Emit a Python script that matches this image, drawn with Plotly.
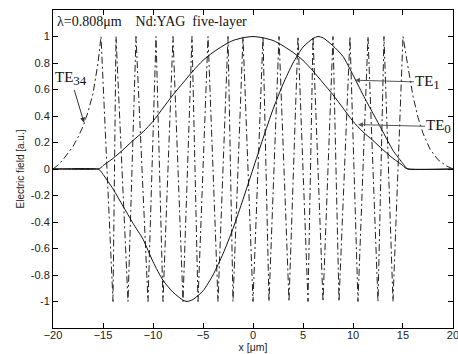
import plotly.graph_objects as go

# ---- data ----
te0_x = [-20, -15.5, -15.2, -15, -14, -13, -12, -11, -10, -9, -8, -7, -6, -5, -4, -3, -2, -1, 0,
         1, 2, 3, 4, 5, 6, 7, 8, 9, 10, 11, 12, 13, 14, 15, 15.2, 15.5, 20]
te0_y = [0, 0, 0.01, 0.025, 0.08, 0.145, 0.215, 0.28, 0.36, 0.46, 0.56, 0.65, 0.74, 0.82, 0.88, 0.93, 0.97, 0.99, 1.0,
         0.99, 0.97, 0.93, 0.88, 0.82, 0.74, 0.65, 0.56, 0.46, 0.36, 0.28, 0.215, 0.145, 0.08, 0.025, 0.01, 0, 0]

te1_x = [-20, -15.5, -15.3, -15, -14, -13, -12, -11, -10, -9, -8, -7, -6.6, -6, -5, -4, -3, -2, -1, 0,
         1, 2, 3, 4, 5, 6, 6.5, 7, 8, 9, 10, 11, 12, 13, 14, 15, 15.3, 15.5, 20]
te1_y = [0, 0, -0.01, -0.04, -0.15, -0.28, -0.41, -0.53, -0.70, -0.84, -0.93, -0.99, -1.0, -0.985, -0.92, -0.80, -0.64, -0.45, -0.23, 0,
         0.23, 0.45, 0.64, 0.80, 0.92, 0.985, 1.0, 0.99, 0.93, 0.85, 0.71, 0.56, 0.42, 0.28, 0.14, 0.04, 0.01, 0, 0]

te34_x = [-20, -19.5, -19, -18.5, -18, -17.5, -17, -16.5, -16, -15.5, -15.2,
          -14.0, -13.7, -12.5, -11.7, -10.5, -9.7, -9.0, -8.0, -7.0, -6.1, -5.5, -4.5, -3.5, -2.5, -2.0, -1.0,
          0.0, 1.0, 1.6, 2.6, 3.6, 4.5, 5.5, 6.0, 7.0, 8.0, 8.6, 9.7, 10.5, 11.5, 12.5, 13.1, 14.0, 15.0,
          15.5, 16, 16.5, 17, 17.7, 18.5, 19.3, 20]
te34_y = [0, 0.03, 0.07, 0.12, 0.17, 0.24, 0.32, 0.43, 0.57, 0.80, 1.0,
          -1, 1, -1, 1, -1, 1, -1, 1, -1, 1, -1, 1, -1, 1, -1, 1,
          -1, 1, -1, 1, -1, 1, -1, 1, -1, 1, -1, 1, -1, 1, -1, 1, -1, 1,
          0.77, 0.55, 0.39, 0.27, 0.15, 0.07, 0.025, 0]

x_ticks = [-20, -15, -10, -5, 0, 5, 10, 15, 20]
y_ticks = [-1, -0.8, -0.6, -0.4, -0.2, 0, 0.2, 0.4, 0.6, 0.8, 1]
y_tick_text = ["-1", "-0.8", "-0.6", "-0.4", "-0.2", "0", "0.2", "0.4", "0.6", "0.8", "1"]

serif = "Times New Roman, Liberation Serif, serif"
sans = "Arial, Liberation Sans, sans-serif"

fig = go.Figure()
fig.add_trace(go.Scatter(x=te34_x, y=te34_y, mode="lines",
                         line=dict(color="#222222", width=1, dash="7px,3px,2px,3px")))
fig.add_trace(go.Scatter(x=te0_x, y=te0_y, mode="lines",
                         line=dict(color="#111111", width=1, shape="spline", smoothing=0.6)))
fig.add_trace(go.Scatter(x=te1_x, y=te1_y, mode="lines",
                         line=dict(color="#111111", width=1, shape="spline", smoothing=0.6)))

def sub_label(main, sub):
    return main + "<sub><span style='font-size:13px'>" + sub + "</span></sub>"

ann = []
ann.append(dict(x=-19.85, y=1.115, xref="x", yref="y", xanchor="left", yanchor="middle",
                text="λ=0.808μm\u00a0\u00a0\u00a0 Nd:YAG\u00a0 five-layer", showarrow=False,
                font=dict(family=serif, size=14, color="#111111")))
# labels with arrows (text centred at the arrow tail)
ann.append(dict(x=-16.9, y=0.35, ax=-18.2, ay=0.68, axref="x", ayref="y",
                text=sub_label("TE", "34"), showarrow=True, arrowhead=2, arrowsize=1,
                arrowwidth=1, arrowcolor="#333333",
                font=dict(family=serif, size=15, color="#111111")))
ann.append(dict(x=10.2, y=0.67, ax=17.5, ay=0.655, axref="x", ayref="y",
                text=sub_label("TE", "1"), showarrow=True, arrowhead=2, arrowsize=1,
                arrowwidth=1, arrowcolor="#555555",
                font=dict(family=serif, size=15, color="#111111")))
ann.append(dict(x=10.5, y=0.335, ax=18.6, ay=0.32, axref="x", ayref="y",
                text=sub_label("TE", "0"), showarrow=True, arrowhead=2, arrowsize=1,
                arrowwidth=1, arrowcolor="#555555",
                font=dict(family=serif, size=15, color="#111111")))

fig.update_layout(
    width=458, height=354,
    margin=dict(l=53, r=5, t=10, b=26),
    paper_bgcolor="white", plot_bgcolor="white",
    showlegend=False,
    annotations=ann,
    font=dict(family=sans, size=11, color="#222222"),
)
fig.update_xaxes(range=[-20.001, 20.001], tickvals=x_ticks, ticks="inside", ticklen=5, tickcolor="black",
                 showline=True, linecolor="black", linewidth=1, mirror="ticks", showgrid=False,
                 zeroline=False, title=dict(text="x [μm]", standoff=2, font=dict(size=10.5)),
                 tickfont=dict(size=11), ticklabeloverflow="allow", automargin=False,
                 ticklabelstandoff=-3)
fig.update_yaxes(range=[-1.2, 1.2], tickvals=y_ticks, ticktext=y_tick_text, ticks="inside", ticklen=5,
                 tickcolor="black", showline=True, linecolor="black", linewidth=1, mirror="ticks",
                 showgrid=False, zeroline=False,
                 title=dict(text="Electric field [a.u.]", standoff=4, font=dict(size=10)),
                 tickfont=dict(size=11), automargin=False)

fig.write_html("out.html")
